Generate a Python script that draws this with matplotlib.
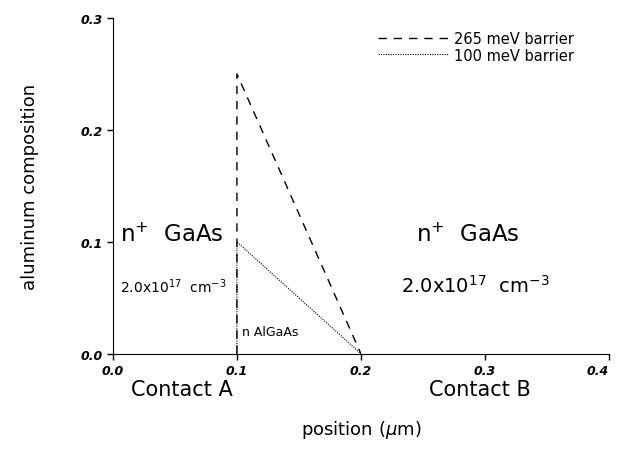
import matplotlib
matplotlib.use("Agg")
import matplotlib.pyplot as plt

# barrier profiles (position in um, aluminum composition)
pos_265 = [0.1, 0.1, 0.2]
al_265 = [0.0, 0.25, 0.0]
pos_100 = [0.1, 0.1, 0.2]
al_100 = [0.0, 0.1, 0.0]

xticks = [0.0, 0.1, 0.2, 0.3, 0.4]
yticks = [0.0, 0.1, 0.2, 0.3]

fig = plt.figure(figsize=(6.17, 4.52), dpi=100)
ax = fig.add_axes([0.183, 0.215, 0.804, 0.743])

ax.plot(pos_265, al_265, color="black", linestyle=(0, (6, 5)), linewidth=1.0,
        label="265 meV barrier")
ax.plot(pos_100, al_100, color="black", linestyle=(0, (1, 1.2)), linewidth=0.8,
        label="100 meV barrier")

ax.set_xlim(0, 0.4)
ax.set_ylim(0, 0.3)
ax.set_xticks(xticks)
ax.set_yticks(yticks)
ax.set_xticklabels([f"{v:.1f}" for v in xticks], fontsize=9, fontweight="bold", style="italic")
ax.set_yticklabels([f"{v:.1f}" for v in yticks], fontsize=9, fontweight="bold", style="italic")
ax.get_xticklabels()[-1].set_horizontalalignment("right")
ax.tick_params(direction="out", length=4, width=1)
ax.spines["top"].set_visible(False)
ax.spines["right"].set_visible(False)

ax.set_ylabel("aluminum composition", fontsize=13, labelpad=30)
ax.text(0.5, -0.225, "position ($\\mu$m)", transform=ax.transAxes,
        ha="center", va="center", fontsize=13)

ax.text(0.006, 0.107, "n$^{+}$  GaAs", fontsize=16.5, ha="left", va="center")
ax.text(0.244, 0.107, "n$^{+}$  GaAs", fontsize=16.5, ha="left", va="center")
ax.text(0.006, 0.061, "2.0x10$^{17}$  cm$^{-3}$", fontsize=10, ha="left", va="center")
ax.text(0.232, 0.062, "2.0x10$^{17}$  cm$^{-3}$", fontsize=14, ha="left", va="center")
ax.text(0.104, 0.02, "n AlGaAs", fontsize=9, ha="left", va="center")

ax.text(0.139, -0.105, "Contact A", transform=ax.transAxes, fontsize=15,
        ha="center", va="center")
ax.text(0.74, -0.105, "Contact B", transform=ax.transAxes, fontsize=15,
        ha="center", va="center")

ax.legend(loc="upper right", bbox_to_anchor=(0.955, 1.0), frameon=False,
          fontsize=10.5, handlelength=4.8, handletextpad=0.4, labelspacing=0.1)

fig.savefig("out.png", dpi=100)
